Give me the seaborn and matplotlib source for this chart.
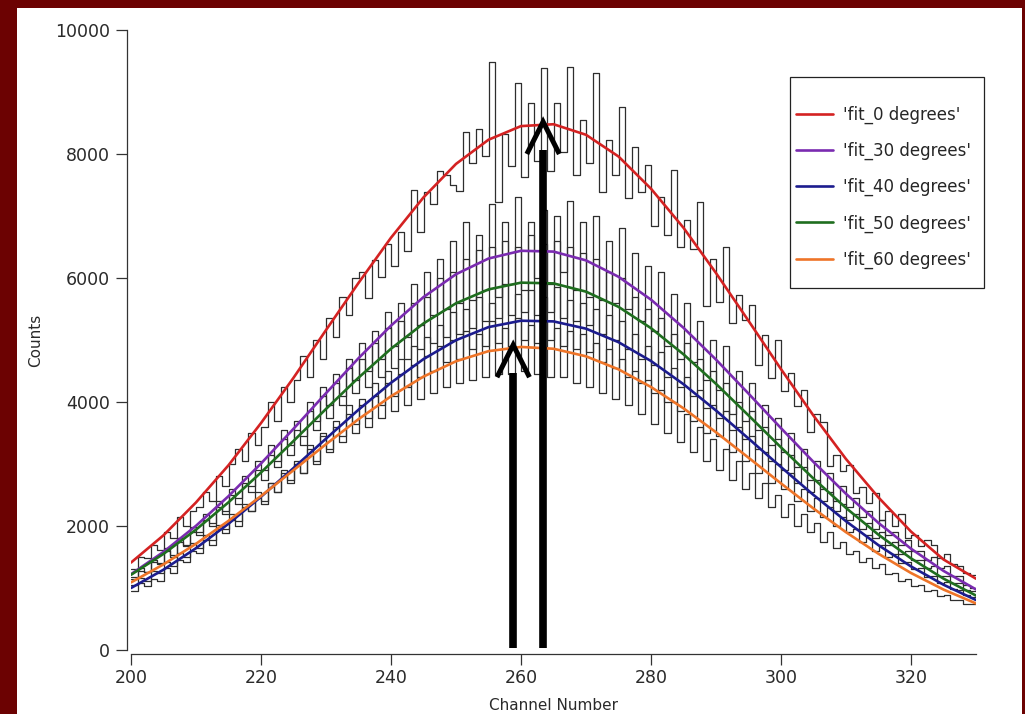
import numpy as np
import pandas as pd
import seaborn as sns
import matplotlib.pyplot as plt
from matplotlib.patches import Rectangle

# --- data ---
channels = np.arange(200, 330)          # histogram bins (1 channel wide)
fit_channels = np.arange(200, 331, 5)   # fit curve sample points

hist_0 = [1300, 1500, 1480, 1700, 1620, 1900, 1800, 2150, 2000, 2250,
          2300, 2550, 2400, 2800, 2650, 3000, 3250, 3050, 3500, 3300,
          3600, 4000, 3700, 4250, 4000, 4350, 4750, 4400, 5000, 4700,
          5350, 5050, 5700, 5400, 6000, 6100, 5670, 6290, 6020, 6550,
          6190, 6750, 6430, 7420, 6750, 7390, 7200, 7720, 7660, 7500,
          7400, 8360, 7850, 8410, 7960, 9490, 7230, 8330, 7800, 9140,
          7630, 8820, 7880, 9380, 7720, 8830, 8040, 9400, 7660, 8550,
          7850, 9310, 7380, 8230, 7660, 8760, 7290, 8120, 7380, 7820,
          6840, 7300, 6690, 7740, 6500, 6940, 6460, 7220, 5550, 6300,
          5620, 6500, 5270, 5730, 5320, 5570, 4600, 5080, 4380, 5000,
          4170, 4460, 3930, 4200, 3520, 3800, 3670, 2970, 3150, 2880,
          2980, 2530, 2630, 2370, 2530, 2100, 2250, 2000, 2200, 1800,
          1850, 1680, 1770, 1700, 1480, 1550, 1380, 1350, 1240, 1210]

hist_30 = [1150, 1320, 1260, 1450, 1390, 1650, 1540, 1800, 1700, 1980,
           1900, 2200, 2050, 2400, 2250, 2600, 2450, 2800, 2650, 3050,
           2900, 3300, 3050, 3550, 3300, 3700, 3450, 4000, 3700, 4250,
           3950, 4450, 4100, 4700, 4350, 4950, 4500, 5150, 4700, 5450,
           4900, 5600, 5050, 5900, 5250, 6100, 5400, 6300, 5500, 6600,
           5600, 6900, 5650, 6700, 5800, 7200, 5700, 6900, 5900, 7300,
           5800, 6900, 6000, 7100, 5900, 7000, 6100, 7250, 5800, 6900,
           5700, 7000, 5650, 6600, 5600, 6800, 5500, 6400, 5300, 6200,
           5150, 6100, 4900, 5750, 4700, 5600, 4650, 5300, 4350, 5000,
           4200, 4900, 3800, 4500, 3700, 4300, 3550, 3950, 3300, 3750,
           3200, 3500, 2950, 3250, 2750, 3050, 2600, 2850, 2400, 2650,
           2300, 2450, 2150, 2250, 1950, 2100, 1850, 1900, 1700, 1780,
           1600, 1600, 1450, 1500, 1320, 1350, 1200, 1200, 1050, 1000]

hist_40 = [950, 1080, 1040, 1150, 1120, 1330, 1250, 1450, 1420, 1600,
           1560, 1780, 1700, 1950, 1880, 2100, 2000, 2300, 2250, 2450,
           2350, 2700, 2550, 2900, 2750, 3000, 2850, 3300, 3050, 3500,
           3250, 3700, 3450, 3950, 3650, 4050, 3750, 4300, 3950, 4500,
           4100, 4700, 4250, 4900, 4400, 5050, 4500, 5250, 4650, 5450,
           4700, 5500, 4850, 5700, 4900, 5600, 4950, 5900, 4900, 5750,
           5000, 5800, 4950, 5700, 5000, 5850, 4900, 5650, 4850, 5600,
           4800, 5500, 4650, 5400, 4550, 5300, 4400, 5100, 4300, 4900,
           4150, 4800, 4000, 4550, 3850, 4400, 3700, 4200, 3500, 3950,
           3450, 3850, 3200, 3600, 3050, 3450, 2850, 3200, 2700, 3000,
           2600, 2850, 2400, 2600, 2250, 2450, 2150, 2300, 2000, 2150,
           1900, 1950, 1750, 1850, 1600, 1700, 1500, 1550, 1400, 1420,
           1300, 1320, 1180, 1200, 1080, 1100, 980, 960, 880, 860]

hist_50 = [1180, 1280, 1260, 1420, 1400, 1600, 1500, 1750, 1680, 1900,
           1850, 2100, 2000, 2300, 2200, 2500, 2350, 2700, 2550, 2900,
           2750, 3150, 2950, 3400, 3150, 3550, 3300, 3850, 3550, 4100,
           3750, 4300, 3950, 4550, 4150, 4700, 4250, 4950, 4400, 5200,
           4550, 5300, 4700, 5600, 4850, 5700, 4950, 6000, 5050, 6100,
           5100, 6300, 5200, 6450, 5300, 6500, 5350, 6600, 5400, 6500,
           5450, 6700, 5400, 6550, 5450, 6600, 5350, 6500, 5300, 6400,
           5250, 6300, 5100, 6100, 5000, 6000, 4850, 5700, 4700, 5500,
           4600, 5350, 4400, 5100, 4250, 4950, 4100, 4700, 3900, 4500,
           3750, 4300, 3550, 4000, 3400, 3850, 3250, 3600, 3050, 3400,
           2900, 3150, 2700, 2950, 2550, 2750, 2400, 2550, 2250, 2350,
           2100, 2200, 1950, 2050, 1800, 1900, 1700, 1750, 1550, 1600,
           1450, 1450, 1320, 1350, 1200, 1200, 1080, 1080, 960, 950]

hist_60 = [1050, 1160, 1120, 1280, 1250, 1420, 1350, 1560, 1500, 1720,
           1650, 1850, 1780, 2020, 1950, 2200, 2080, 2350, 2250, 2550,
           2400, 2700, 2550, 2850, 2700, 3050, 2850, 3250, 3000, 3450,
           3200, 3600, 3350, 3800, 3500, 3950, 3600, 4100, 3750, 4300,
           3850, 4450, 3950, 4600, 4050, 4750, 4150, 4900, 4250, 5000,
           4300, 5150, 4350, 5100, 4400, 5300, 4450, 5200, 4450, 5350,
           4500, 5250, 4450, 5300, 4400, 5200, 4400, 5150, 4300, 5100,
           4250, 4950, 4150, 4850, 4050, 4700, 3950, 4500, 3800, 4350,
           3650, 4200, 3500, 4000, 3350, 3800, 3200, 3600, 3050, 3400,
           2900, 3250, 2750, 3050, 2600, 2850, 2450, 2700, 2300, 2500,
           2150, 2350, 2000, 2200, 1900, 2050, 1750, 1900, 1650, 1750,
           1550, 1600, 1420, 1480, 1320, 1380, 1220, 1250, 1120, 1150,
           1030, 1050, 950, 960, 870, 880, 800, 800, 740, 740]

fit_0 = [1410, 1850, 2380, 2980, 3660, 4390, 5160, 5920, 6650, 7300, 7840, 8230,
         8450, 8480, 8310, 7960, 7440, 6810, 6080, 5310, 4530, 3780, 3080, 2460,
         1910, 1460, 1150]
fit_30 = [1223, 1582, 2003, 2481, 3008, 3568, 4142, 4706, 5232, 5692, 6061, 6314,
          6439, 6426, 6284, 6020, 5651, 5197, 4684, 4136, 3578, 3033, 2519, 2049,
          1634, 1276, 977]
fit_40 = [1000, 1295, 1642, 2036, 2471, 2934, 3409, 3875, 4310, 4692, 4997, 5208,
          5311, 5300, 5183, 4965, 4661, 4287, 3863, 3411, 2951, 2501, 2077, 1690,
          1348, 1053, 806]
fit_50 = [1213, 1550, 1941, 2382, 2863, 3371, 3888, 4392, 4859, 5267, 5592, 5816,
          5925, 5913, 5780, 5535, 5191, 4769, 4293, 3784, 3268, 2765, 2291, 1859,
          1478, 1151, 878]
fit_60 = [1090, 1381, 1713, 2083, 2483, 2900, 3319, 3723, 4093, 4410, 4657, 4820,
          4888, 4859, 4737, 4527, 4242, 3898, 3512, 3102, 2687, 2282, 1900, 1552,
          1242, 975, 751]

fit_labels = ["'fit_0 degrees'", "'fit_30 degrees'", "'fit_40 degrees'",
              "'fit_50 degrees'", "'fit_60 degrees'"]
fit_colors = ["#d42222", "#7a2bb0", "#1c1c8e", "#1f6e1f", "#ee7428"]

# black arrows marking the two peak positions
arrow_channels = [258.8, 263.4]
arrow_tips = [4920, 8520]
arrow_base = 30

# --- figure ---
sns.set_style("ticks")
plt.rcParams["font.family"] = ["DejaVu Sans"]

fig = plt.figure(figsize=(10.25, 7.14), dpi=100)
fig.patch.set_facecolor("#6c0202")
fig.patches.append(Rectangle((17 / 1025, 0), 1005 / 1025, 706 / 714,
                             transform=fig.transFigure, facecolor="white",
                             edgecolor="none", zorder=-1))
ax = fig.add_axes([131 / 1025, 64 / 714, 845 / 1025, 620 / 714])
ax.set_facecolor("white")

hists = [hist_0, hist_30, hist_40, hist_50, hist_60]
fits = [fit_0, fit_30, fit_40, fit_50, fit_60]

# histograms as steps (append last value so the last bin is closed at 330)
for h in hists:
    df = pd.DataFrame({"ch": np.append(channels, 330), "counts": h + [h[-1]]})
    sns.lineplot(data=df, x="ch", y="counts", drawstyle="steps-post",
                 color="#2e2e2e", lw=0.9, estimator=None, ax=ax, zorder=2)

handles = []
for f, lab, col in zip(fits, fit_labels, fit_colors):
    sns.lineplot(x=fit_channels, y=f, color=col, lw=1.9, estimator=None,
                 ax=ax, zorder=3)
    handles.append(ax.lines[-1])

for xc, tip in zip(arrow_channels, arrow_tips):
    ax.plot([xc, xc], [arrow_base, tip - 450], color="black", lw=5.5,
            solid_capstyle="butt", zorder=5)
    ax.plot([xc - 2.5, xc, xc + 2.5], [tip - 520, tip, tip - 520],
            color="black", lw=3.6, solid_joinstyle="miter",
            solid_capstyle="butt", zorder=5)

ax.set_xlim(200, 330)
ax.set_ylim(0, 10000)
ax.set_xticks(range(200, 330, 20))
ax.set_yticks(range(0, 10001, 2000))
sns.despine(ax=ax)
for side in ["left", "bottom"]:
    ax.spines[side].set_position(("outward", 3))
    ax.spines[side].set_color("#333333")
    ax.spines[side].set_linewidth(0.9)
ax.tick_params(axis="both", length=8, width=0.9, color="#333333",
               labelcolor="#2a2a2a", labelsize=12.5, pad=4)
ax.tick_params(axis="x", pad=3)

ax.set_xlabel("Channel Number", fontsize=11, color="#2a2a2a")
ax.set_ylabel("Counts", fontsize=11, color="#2a2a2a")
ax.xaxis.set_label_coords(0.5, -0.077)
ax.yaxis.set_label_coords(-0.104, 0.5)

leg = ax.legend(handles, fit_labels, loc="upper left", frameon=False,
                bbox_to_anchor=(796 / 1025, 1 - 106 / 714),
                bbox_transform=fig.transFigure, borderpad=0, borderaxespad=0,
                fontsize=12, labelspacing=1.07, handlelength=2.2,
                handletextpad=0.6)
for line in leg.get_lines():
    line.set_linewidth(1.9)
fig.patches.append(Rectangle((790 / 1025, 1 - 288 / 714), 194 / 1025, 211 / 714,
                             transform=fig.transFigure, facecolor="none",
                             edgecolor="#222222", lw=0.9, zorder=6))

fig.savefig("out.png", dpi=100, facecolor=fig.get_facecolor())
